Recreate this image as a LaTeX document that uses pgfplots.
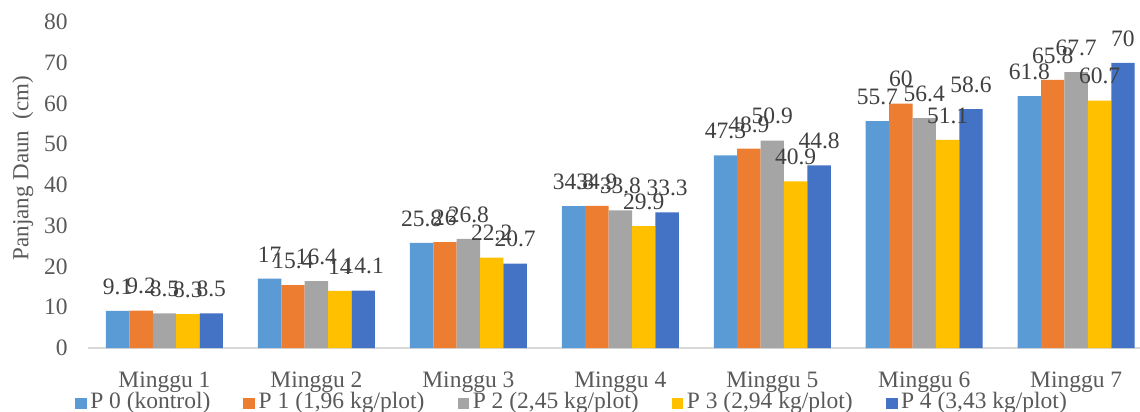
\documentclass[border=0pt]{standalone}
\usepackage{pgfplots}
\pgfplotsset{compat=1.18}
\usepackage{fontspec}
\setmainfont{Liberation Serif}
\definecolor{c0}{HTML}{5B9BD5}
\definecolor{c1}{HTML}{ED7D31}
\definecolor{c2}{HTML}{A5A5A5}
\definecolor{c3}{HTML}{FFC000}
\definecolor{c4}{HTML}{4472C4}
\definecolor{txt}{HTML}{595959}
\definecolor{lbl}{HTML}{404040}
\definecolor{axl}{HTML}{D9D9D9}
\newcommand{\cf}{\fontsize{11.75}{14}\selectfont}
\begin{document}
\begin{tikzpicture}
\begin{axis}[
 at={(0pt,0pt)}, anchor=south west,
 scale only axis, width=525.75pt, height=163pt,
 ybar=0pt, bar width=11.7pt,
 xmin=-0.5, xmax=6.42, ymin=0, ymax=80,
 xtick={0,...,6},
 xticklabels={Minggu 1,Minggu 2,Minggu 3,Minggu 4,Minggu 5,Minggu 6,Minggu 7},
 ytick={0,10,...,80},
 axis x line*=bottom, axis y line*=left,
 x axis line style={draw=axl, line width=0.75pt},
 y axis line style={draw=none},
 major tick length=0pt,
 tick label style={font=\cf, text=txt},
 /pgf/number format/assume math mode=true,
 yticklabel style={inner sep=0pt, anchor=east, xshift=-10.25pt},
 xticklabel style={inner sep=0pt, anchor=base, yshift=-19.5pt},
 ylabel={Panjang Daun\ \ (cm)},
 ylabel style={at={(axis description cs:-0.0623,0.552)}, anchor=center, font=\fontsize{11.5}{14}\selectfont, text=txt, inner sep=0pt},
 nodes near coords,
 every node near coord/.append style={font=\cf, text=lbl, inner sep=0pt, anchor=south, yshift=8pt},
 clip=false,
 legend columns=5,
 legend style={at={(axis description cs:-0.01284,-0.135)}, anchor=north west, draw=none, fill=none, inner sep=0pt, outer sep=0pt, font=\cf, text=txt, column sep=1.75pt, /tikz/every even column/.append style={column sep=16.5pt}, nodes={inner sep=0pt, anchor=base west}},
 legend image code/.code={\fill[#1] (0pt,-0.5pt) rectangle (5.9pt,5.4pt);},
]
\addplot[fill=c0, draw=none] coordinates {(0,9.1) (1,17) (2,25.8) (3,34.8) (4,47.3) (5,55.7) (6,61.8)};
\addplot[fill=c1, draw=none] coordinates {(0,9.2) (1,15.4) (2,26) (3,34.9) (4,48.9) (5,60) (6,65.8)};
\addplot[fill=c2, draw=none] coordinates {(0,8.5) (1,16.4) (2,26.8) (3,33.8) (4,50.9) (5,56.4) (6,67.7)};
\addplot[fill=c3, draw=none] coordinates {(0,8.3) (1,14) (2,22.2) (3,29.9) (4,40.9) (5,51.1) (6,60.7)};
\addplot[fill=c4, draw=none] coordinates {(0,8.5) (1,14.1) (2,20.7) (3,33.3) (4,44.8) (5,58.6) (6,70)};
\legend{P 0 (kontrol),P 1 (1{,}96 kg/plot),P 2 (2{,}45 kg/plot),P 3 (2{,}94 kg/plot),P 4 (3{,}43 kg/plot)}
\end{axis}
\pgfresetboundingbox
\useasboundingbox (-44.25pt,-32pt) rectangle (525.75pt,174pt);
\end{tikzpicture}
\end{document}
